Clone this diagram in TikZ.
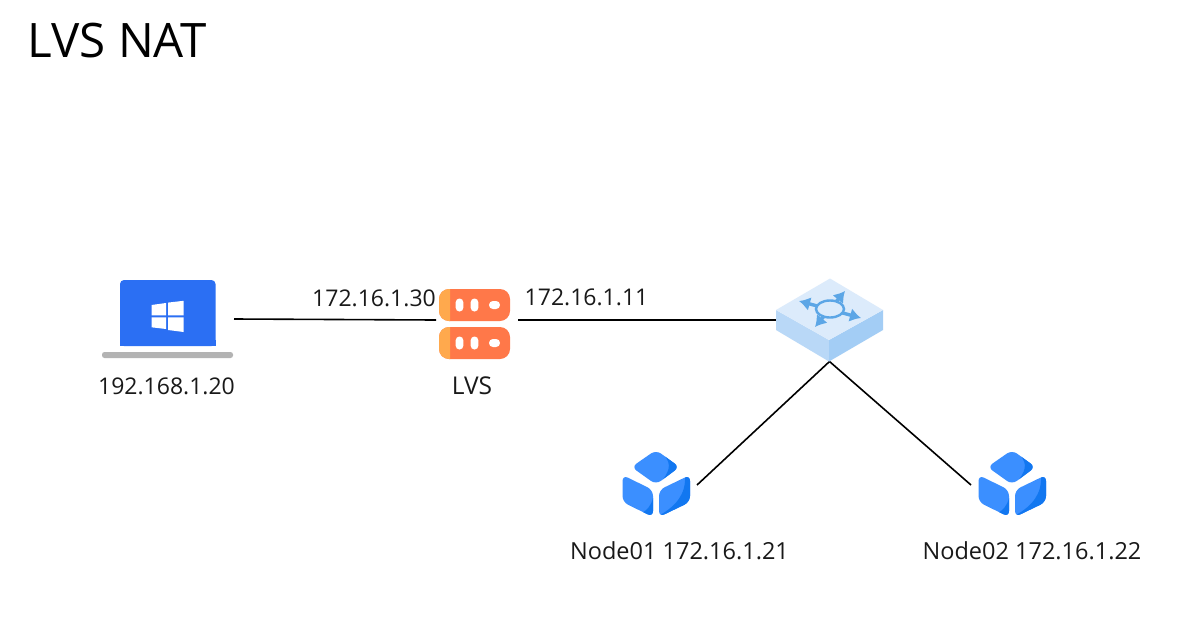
\documentclass[tikz,border=0pt]{standalone}
\usepackage{fontspec}
\setmainfont{Open Sans}
\usetikzlibrary{arrows.meta}
\definecolor{winblue}{HTML}{2B6FF3}
\definecolor{basegray}{HTML}{B3B3B3}
\definecolor{srvorange}{HTML}{FF7849}
\definecolor{srvlight}{HTML}{FFA94D}
\definecolor{swtop}{HTML}{DCEBFB}
\definecolor{swleft}{HTML}{B9D8F7}
\definecolor{swright}{HTML}{A3CDF5}
\definecolor{swarrow}{HTML}{5CA6E6}
\definecolor{cubeblue}{HTML}{3B8FFF}
\definecolor{cubedark}{HTML}{1277F0}
\tikzset{
  x=1pt,y=-1pt,
  iconbox/.style={inner sep=0pt,outer sep=0pt,minimum width=#1},
  label/.style={inner sep=0pt,font=\fontsize{23}{27}\selectfont,text=black!90},
  link/.style={draw=black,line width=1.6pt},
  swarr/.style={draw=swarrow,line width=3.4pt,{Latex[length=11pt,width=14pt]}-{Latex[length=11pt,width=14pt]}},
  pics/cube/.style={code={
    \fill[cubeblue,rounded corners=6pt] (-24.5,-17) -- (0,-34) -- (23.5,-17) -- (0,0.5) -- cycle;
    \begin{scope}
      \clip[rounded corners=6pt] (-24.5,-17) -- (0,-34) -- (23.5,-17) -- (0,0.5) -- cycle;
      \fill[cubedark] (8,-29) .. controls (16,-20) and (14,-12) .. (3,0) -- (24,-4) -- (26,-17) -- cycle;
    \end{scope}
    \fill[cubeblue,rounded corners=6pt] (-33.5,-9) -- (-3,6) -- (-3,33) -- (-33.5,18) -- cycle;
    \begin{scope}
      \clip[rounded corners=6pt] (-33.5,-9) -- (-3,6) -- (-3,33) -- (-33.5,18) -- cycle;
      \fill[cubedark] (-3,14) .. controls (-5,22) and (-9,26) .. (-14,29) -- (-3,35) -- cycle;
    \end{scope}
    \fill[cubeblue,rounded corners=6pt] (34,-9) -- (3,6) -- (3,33) -- (34,18) -- cycle;
    \begin{scope}
      \clip[rounded corners=6pt] (34,-9) -- (3,6) -- (3,33) -- (34,18) -- cycle;
      \fill[cubedark] (29,-8) .. controls (30,10) and (20,22) .. (4,31) -- (4,36) -- (36,22) -- (36,-10) -- cycle;
    \end{scope}
  }}
}
\begin{document}
\begin{tikzpicture}
\useasboundingbox (0,0) rectangle (1204,637);
\fill[white] (0,0) rectangle (1204,637);
% anchor boxes
\node[iconbox=132pt,minimum height=78pt] (laptop) at (168,319) {};
\node[iconbox=82pt,minimum height=70pt] (lvs) at (477,320) {};
\node[iconbox=107pt,minimum height=83pt] (switch) at (829.5,320) {};
\node[iconbox=82pt,minimum height=40pt] (nodeA) at (656,485) {};
\node[iconbox=82pt,minimum height=40pt] (nodeB) at (1012,485) {};
% connectors
\draw[link] (laptop.east) -- (lvs.west);
\draw[link] (lvs.east) -- (switch.west);
\draw[link] (switch.south) -- (nodeA.east);
\draw[link] (switch.south) -- (nodeB.west);
% laptop
\fill[winblue,rounded corners=4pt] (120,346) -- (120,280) -- (215.5,280) -- (215.5,346) -- cycle;
\fill[winblue] (120,340) rectangle (215.5,346);
\fill[basegray,rounded corners=2.5pt] (102,352) rectangle (233,358);
\fill[white] (151.5,305) -- (166,303) -- (166,315.3) -- (151.5,315.3) -- cycle
             (168,302.6) -- (183.5,300.8) -- (183.5,315.3) -- (168,315.3) -- cycle
             (151.5,317.3) -- (166,317.3) -- (166,329) -- (151.5,327.3) -- cycle
             (168,317.3) -- (183.5,317.3) -- (183.5,332) -- (168,330) -- cycle;
% server
\foreach \yy in {289,327}{
  \fill[srvorange,rounded corners=10pt] (439,\yy) rectangle (510,\yy+32);
  \begin{scope}
    \clip (439,\yy-1) rectangle (450,\yy+33);
    \fill[srvlight,rounded corners=10pt] (439,\yy) rectangle (510,\yy+32);
  \end{scope}
  \fill[white,rounded corners=3.7pt] (455.7,\yy+9.5) rectangle (463.3,\yy+22.5);
  \fill[white,rounded corners=3.7pt] (470.7,\yy+9.5) rectangle (478.3,\yy+22.5);
  \fill[white,rounded corners=3.9pt] (489,\yy+12) rectangle (500,\yy+20);
}
% switch
\fill[swleft] (776,310) -- (829,340) -- (829,361.5) -- (776,330) -- cycle;
\fill[swright] (883,310) -- (829,340) -- (829,361.5) -- (883,330) -- cycle;
\fill[swtop] (776,310) -- (830,278.5) -- (883,310) -- (829,340) -- cycle;
\draw[swarr] (799,301) -- (861,318);
\draw[swarr] (815,327) -- (845,291);
\fill[swtop] (830,309) ellipse [x radius=14pt,y radius=8.5pt];
\draw[swarrow,line width=2.4pt] (830,309) ellipse [x radius=14pt,y radius=8.5pt];
% cubes
\path (656,484) pic {cube};
\path (1012,484) pic {cube};
% text
\node[inner sep=0pt,font=\fontsize{47.5}{56}\selectfont,anchor=west] (title) at (27.5,41) {LVS NAT};
\node[label] (ipa) at (374,298) {172.16.1.30};
\node[label] (ipb) at (586.5,297) {172.16.1.11};
\node[label] (ipc) at (166.5,386) {192.168.1.20};
\node[label,font=\fontsize{24.5}{27}\selectfont] (lvslabel) at (472,386) {LVS};
\node[label,font=\fontsize{23.5}{27}\selectfont] (nodeAlabel) at (679.5,551) {Node01 172.16.1.21};
\node[label,font=\fontsize{23.5}{27}\selectfont] (nodeBlabel) at (1032,551) {Node02 172.16.1.22};
\end{tikzpicture}
\end{document}
